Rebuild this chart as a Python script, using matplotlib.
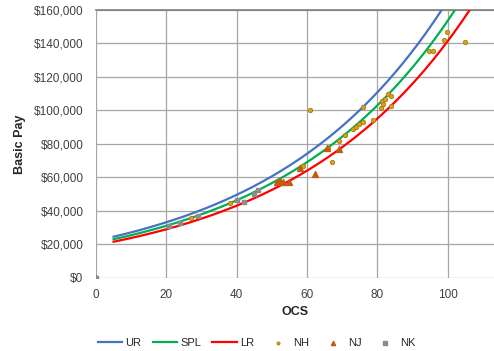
import matplotlib.pyplot as plt
import matplotlib
import numpy as np

font = {
    'family': ['Liberation Sans', 'DejaVu Sans'],
    'size': 8
}
matplotlib.rc("font", **font)

# exponential trend lines  y = a * exp(b * x)
trend_names = ['UR', 'SPL', 'LR']
trend_a = [22160, 20810, 19470]
trend_b = [0.02011, 0.01998, 0.01982]
trend_colors = ['#4472C4', '#00B050', '#FF0000']
trend_x_start = 5
trend_x_end = 110

# scatter data: OCS, basic pay
nh_x = [27.0, 38.0, 59.0, 60.8, 65.9, 67.0, 69.0, 70.9, 73.0, 73.9, 74.9, 75.8, 75.8,
        78.8, 81.0, 81.4, 81.7, 82.3, 83.0, 83.8, 83.9, 94.8, 95.9, 98.9, 99.9, 104.9]
nh_y = [35800, 44800, 66900, 100500, 77800, 69300, 82000, 85500, 88800, 90200, 91800,
        93000, 101800, 94200, 101700, 105700, 104100, 107100, 109900, 108900, 102500,
        135300, 135300, 142300, 147100, 141100]
nj_x = [0, 51.4, 52.3, 53.1, 55.0, 58.0, 62.2, 65.8, 69.0]
nj_y = [0, 57400, 57600, 57400, 57400, 65300, 61900, 77400, 77000]
nk_x = [0, 20.7, 23.9, 29.0, 40.1, 42.1, 44.9, 46.0]
nk_y = [0, 30900, 32800, 37000, 46200, 45000, 50200, 52200]

x_ticks = [0, 20, 40, 60, 80, 100]
y_ticks = [0, 20000, 40000, 60000, 80000, 100000, 120000, 140000, 160000]


def draw_plt():
    fig = plt.figure(figsize=(4.94, 3.51), dpi=100)
    ax = fig.add_axes([0.1943, 0.2088, 0.8057, 0.7627])

    xs = np.linspace(trend_x_start, trend_x_end, 200)
    for name, a, b, c in zip(trend_names, trend_a, trend_b, trend_colors):
        ax.plot(xs, a * np.exp(b * xs), color=c, lw=1.6, label=name, zorder=3)

    ax.scatter(nh_x, nh_y, s=10, marker='o', color='#D9A21B', edgecolors='#A67C10',
               linewidths=0.6, label='NH', zorder=4)
    ax.scatter(nj_x, nj_y, s=18, marker='^', color='#C65911', label='NJ', zorder=4)
    ax.scatter(nk_x, nk_y, s=12, marker='s', color='#8C8C8C', label='NK', zorder=4)

    ax.set_xlim(0, 113.2)
    ax.set_ylim(0, 160000)
    ax.set_xticks(x_ticks)
    ax.set_yticks(y_ticks)
    ax.set_yticklabels(['${:,}'.format(v) for v in y_ticks])
    ax.grid(True, color='#A6A6A6', lw=0.9)
    ax.set_axisbelow(True)
    for s in ['right', 'bottom', 'left']:
        ax.spines[s].set_visible(False)
    ax.spines['top'].set_color('#7F7F7F')
    ax.spines['top'].set_linewidth(1.2)
    ax.tick_params(length=0, colors='#404040', labelsize=8.5, pad=9)
    ax.tick_params(axis='x', pad=8)

    ax.set_xlabel('OCS', fontweight='bold', fontsize=9, color='#262626', labelpad=4)
    ax.set_ylabel('Basic Pay', fontweight='bold', fontsize=9, color='#262626', labelpad=6)

    fig.legend(loc='center', bbox_to_anchor=(0.52, 0.022), ncol=6, frameon=False,
               fontsize=8, handlelength=2.2, columnspacing=1.0, handletextpad=0.3,
               markerscale=0.7, labelcolor='#262626', borderpad=0)
    fig.savefig('out.png', dpi=100)


if __name__ == '__main__':
    draw_plt()
